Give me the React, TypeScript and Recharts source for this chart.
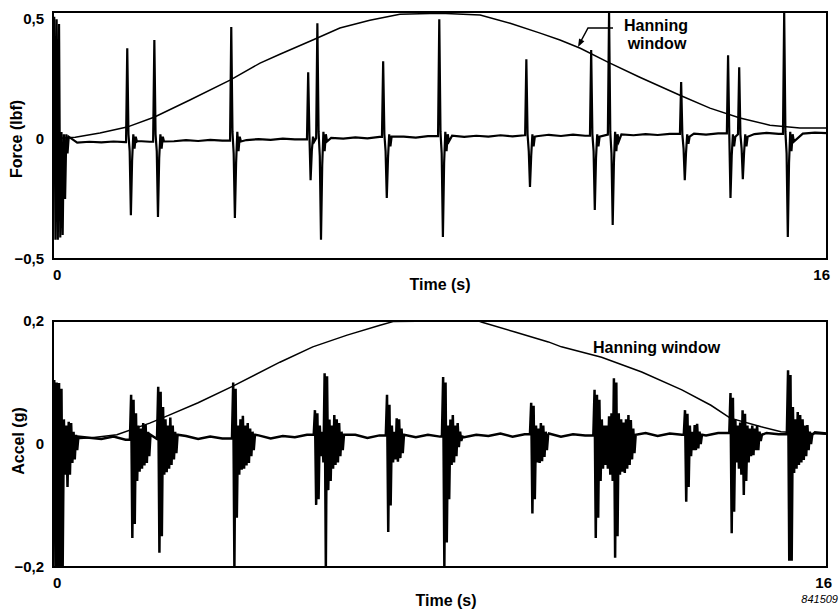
import React from 'react';
import { LineChart, Line, XAxis, YAxis, ReferenceArea } from 'recharts';

const FONT = '"Liberation Sans", Arial, Helvetica, sans-serif';
const INK = '#000';

// sampling of the recorded signals
const BASE_STEP = 0.25; // s between baseline samples
const RING_STEP = 0.025; // s between samples inside one hit

const timeTicks = [0, 16];
const forceTicks = [-0.5, 0, 0.5];
const accelTicks = [-0.2, 0, 0.2];

// ---- force (lbf) ----
const forceBase = [
  -0.016, -0.012, -0.015, -0.011, -0.014, -0.010, -0.013, -0.008,
  -0.011, -0.007, -0.009, -0.004, -0.008, -0.003, -0.006, -0.001,
  -0.004, 0.0, -0.003, 0.002, -0.001, 0.004, 0.0, 0.005,
  0.002, 0.007, 0.003, 0.009, 0.005, 0.010, 0.006, 0.012,
  0.008, 0.014, 0.009, 0.014, 0.010, 0.016, 0.011, 0.016,
  0.012, 0.018, 0.013, 0.019, 0.014, 0.019, 0.015, 0.020,
  0.016, 0.021, 0.017, 0.022, 0.018, 0.023, 0.019, 0.024,
  0.020, 0.025, 0.021, 0.026, 0.022, 0.027, 0.023, 0.027,
  0.025,
];

const forceHitTimes = [0, 1.51, 2.07, 3.66, 5.25, 5.44, 6.8, 7.96, 9.76, 11.1, 11.47, 12.96, 13.93, 14.16, 15.09];

const forceHitWaves = [
  [0.51, -0.42, 0.5, -0.42, 0.48, -0.41, 0.03, -0.4, 0.02, -0.25, 0.02, -0.06, 0.01],
  [0.379, 0.02, -0.05, -0.317, -0.09, 0.02, -0.04, 0.01, -0.01],
  [0.413, 0.02, -0.05, -0.325, -0.08, 0.02, -0.04, 0.01, -0.01],
  [0.467, 0.03, -0.06, -0.329, -0.1, 0.03, -0.05, 0.01, -0.01],
  [0.279, 0.02, -0.171, -0.05, 0.01, -0.01],
  [0.483, 0.03, -0.07, -0.42, -0.11, 0.03, -0.05, 0.02, -0.01],
  [0.325, 0.02, -0.05, -0.246, -0.08, 0.02, -0.03, 0.01],
  [0.5, 0.03, -0.06, -0.408, -0.1, 0.03, -0.05, 0.02, -0.01],
  [0.333, 0.02, -0.05, -0.2, -0.07, 0.02, -0.03, 0.01],
  [0.371, 0.02, -0.05, -0.296, -0.08, 0.02, -0.03, 0.01],
  [0.53, 0.03, -0.06, -0.358, -0.1, 0.03, -0.05, 0.02, -0.01],
  [0.238, 0.02, -0.04, -0.171, -0.06, 0.02, -0.02, 0.01],
  [0.35, 0.02, -0.246, -0.07, 0.02, -0.03, 0.01],
  [0.3, 0.02, -0.04, -0.167, -0.06, 0.02, -0.03, 0.01],
  [0.53, 0.03, -0.06, -0.408, -0.1, 0.03, -0.05, 0.02, -0.01],
];

const forceWindowTimes = [0, 0.14, 0.46, 0.97, 1.53, 2.1, 2.83, 3.66, 4.28, 4.69, 5.37, 5.93, 6.55, 7.17, 8.0, 8.83, 9.45, 10.07, 10.48, 10.9, 11.47, 12.13, 12.96, 13.58, 14.2, 14.82, 15.44, 16];
const forceWindowValues = [0.004, 0.004, 0.008, 0.025, 0.05, 0.092, 0.163, 0.246, 0.317, 0.354, 0.413, 0.463, 0.496, 0.521, 0.525, 0.517, 0.483, 0.442, 0.413, 0.379, 0.321, 0.258, 0.183, 0.129, 0.088, 0.058, 0.046, 0.046];

// ---- acceleration (g) ----
const accelBase = [
  0.007, 0.011, 0.006, 0.010, 0.008, 0.012, 0.007, 0.011,
  0.008, 0.012, 0.009, 0.013, 0.008, 0.012, 0.009, 0.013,
  0.010, 0.014, 0.009, 0.013, 0.011, 0.015, 0.010, 0.014,
  0.011, 0.015, 0.010, 0.014, 0.012, 0.016, 0.011, 0.015,
  0.012, 0.016, 0.011, 0.015, 0.013, 0.017, 0.012, 0.016,
  0.013, 0.017, 0.012, 0.016, 0.014, 0.018, 0.013, 0.017,
  0.014, 0.018, 0.013, 0.017, 0.015, 0.019, 0.014, 0.018,
  0.015, 0.019, 0.014, 0.018, 0.016, 0.020, 0.015, 0.019,
  0.017,
];

const accelHitTimes = [0, 1.59, 2.15, 3.7, 5.39, 6.88, 8.04, 9.86, 11.17, 13.04, 13.98, 15.17];

const accelHitWaves = [
  [0.104, -0.2, 0.1, -0.2, 0.099, -0.2, 0.09, -0.2, 0.04, -0.05, 0.03, -0.07, 0.036, -0.05, 0.034, -0.031, 0.02, -0.025, 0.015, -0.01, 0.012],
  [0.08, -0.153, 0.072, -0.13, 0.05, -0.06, 0.03, -0.045, 0.025, -0.04, 0.034, -0.035, 0.031, -0.031, 0.02, -0.02, 0.015],
  [0.093, -0.177, 0.085, -0.15, 0.06, -0.05, 0.04, -0.046, 0.03, -0.04, 0.043, -0.034, 0.03, -0.025, 0.02, -0.015, 0.015],
  [0.1, -0.2, 0.09, -0.12, 0.03, -0.05, 0.04, -0.042, 0.046, -0.04, 0.03, -0.035, 0.034, -0.031, 0.025, -0.02, 0.02, -0.01, 0.015],
  [0.055, -0.099, 0.05, -0.09, 0.03, -0.02, 0.02, -0.03, 0.115, -0.2, 0.11, -0.075, 0.04, -0.06, 0.03, -0.04, 0.047, -0.034, 0.04, -0.03, 0.034, -0.02, 0.02, -0.01, 0.015],
  [0.08, -0.143, 0.064, -0.1, 0.03, -0.03, 0.02, -0.025, 0.042, -0.029, 0.04, -0.023, 0.025, -0.015, 0.015],
  [0.109, -0.2, 0.1, -0.16, 0.03, -0.09, 0.04, -0.034, 0.047, -0.03, 0.03, -0.02, 0.034, -0.005, 0.02, 0.005, 0.012],
  [0.067, -0.113, 0.062, -0.09, 0.03, -0.03, 0.025, -0.031, 0.034, -0.028, 0.03, -0.021, 0.02, -0.01, 0.015],
  [0.088, -0.153, 0.08, -0.12, 0.072, -0.06, 0.04, -0.04, 0.03, -0.034, 0.03, -0.04, 0.045, -0.05, 0.05, -0.06, 0.107, -0.185, 0.1, -0.15, 0.05, -0.05, 0.04, -0.045, 0.035, -0.047, 0.04, -0.04, 0.047, -0.034, 0.039, -0.025, 0.025, -0.015, 0.015],
  [0.055, -0.094, 0.049, -0.07, 0.03, -0.02, 0.02, -0.01, 0.031, -0.01, 0.033, -0.007, 0.02, 0.0, 0.015],
  [0.083, -0.145, 0.075, -0.11, 0.04, -0.03, 0.03, -0.04, 0.035, -0.05, 0.055, -0.083, 0.049, -0.06, 0.03, -0.03, 0.025, -0.02, 0.03, -0.018, 0.025, -0.01, 0.031, -0.01, 0.02, 0.005, 0.015],
  [0.12, -0.19, 0.112, -0.19, 0.06, -0.047, 0.04, -0.04, 0.052, -0.034, 0.047, -0.03, 0.04, -0.026, 0.03, -0.02, 0.031, -0.01, 0.02, 0.0, 0.015],
];

const accelWindowTimes = [0, 0.14, 0.8, 1.32, 2.0, 2.4, 3.0, 3.72, 4.69, 5.37, 6.08, 6.76, 7.03, 8.0, 8.8, 8.87, 9.55, 10.24, 10.51, 11.34, 12.17, 13.0, 13.6, 14.0, 14.64, 15.05, 15.46, 16];
const accelWindowValues = [0.006, 0.007, 0.01, 0.015, 0.034, 0.047, 0.067, 0.094, 0.133, 0.158, 0.177, 0.193, 0.199, 0.2, 0.2, 0.198, 0.182, 0.166, 0.158, 0.141, 0.117, 0.088, 0.063, 0.042, 0.028, 0.02, 0.018, 0.016];

type Pt = { t: number; v: number };

// baseline samples with the recorded hits spliced in
function buildSignal(base: number[], hitTimes: number[], hitWaves: number[][]): Pt[] {
  const pts: Pt[] = [];
  let h = 0;
  base.forEach((b, i) => {
    const t = i * BASE_STEP;
    while (h < hitTimes.length && hitTimes[h] <= t) {
      const t0 = hitTimes[h];
      const before = base[Math.max(0, i - 1)];
      if (!pts.length || pts[pts.length - 1].t < t0) pts.push({ t: t0, v: before });
      hitWaves[h].forEach((v, k) => pts.push({ t: +(t0 + (k + 1) * RING_STEP).toFixed(4), v }));
      h++;
    }
    const last = pts.length ? pts[pts.length - 1].t : -1;
    if (t > last) pts.push({ t, v: b });
  });
  return pts;
}

const zip = (ts: number[], vs: number[]): Pt[] => ts.map((t, i) => ({ t, v: vs[i] }));

const forceSignal = buildSignal(forceBase, forceHitTimes, forceHitWaves);
const forceWindow = zip(forceWindowTimes, forceWindowValues);
const accelSignal = buildSignal(accelBase, accelHitTimes, accelHitWaves);
const accelWindow = zip(accelWindowTimes, accelWindowValues);

const fmt = (v: number) => (v === 0 ? '0' : (v < 0 ? '\u2212' : '') + String(Math.abs(v)).replace('.', ','));

const textStyle = { fontFamily: FONT, fontWeight: 700, fill: INK };

const ValueTick = (props: any) => {
  const { x, y, payload } = props;
  return (
    <text x={x - 9} y={y + 5} textAnchor="end" fontSize={15} style={textStyle}>
      {fmt(payload.value)}
    </text>
  );
};

const makeTimeTick = (lastEnd: number) => (props: any) => {
  const { x, y, payload } = props;
  const end = payload.value === 16;
  return (
    <text x={end ? x + lastEnd : x} y={y + 21} textAnchor={end ? 'end' : 'start'} fontSize={15} style={textStyle}>
      {payload.value}
    </text>
  );
};

const ForcePanel = () => (
  <LineChart width={840} height={300} margin={{ top: 12, right: 13, bottom: 0, left: 0 }}>
    <XAxis type="number" dataKey="t" domain={[0, 16]} ticks={timeTicks} interval={0} allowDataOverflow
      axisLine={false} tickLine={false} tickSize={0} tickMargin={0} height={41} tick={makeTimeTick(3)} />
    <YAxis type="number" domain={[-0.5, 0.53]} ticks={forceTicks} interval={0} allowDataOverflow
      axisLine={false} tickLine={false} tickSize={0} tickMargin={0} width={53} tick={<ValueTick />} />
    <ReferenceArea x1={0} x2={16} y1={-0.5} y2={0.53} fill="none" fillOpacity={0} stroke={INK} strokeWidth={2} />
    <Line data={forceWindow} dataKey="v" type="linear" stroke={INK} strokeWidth={1.5} dot={false} isAnimationActive={false} />
    <Line data={forceSignal} dataKey="v" type="linear" stroke={INK} strokeWidth={2.2} dot={false} isAnimationActive={false} />
    <text x={16} y={139} transform="rotate(-90 16 139)" textAnchor="middle" dominantBaseline="central" fontSize={16} style={textStyle}>
      Force (lbf)
    </text>
    <text x={440} y={290} textAnchor="middle" fontSize={16} style={textStyle}>Time (s)</text>
    <text x={656} y={31} textAnchor="middle" fontSize={16} style={textStyle}>Hanning</text>
    <text x={657} y={49} textAnchor="middle" fontSize={16} style={textStyle}>window</text>
    <polyline points="613,28 588,28 581,41" fill="none" stroke={INK} strokeWidth={1.5} />
    <polygon points="578,47 584.4,41.3 579.1,38.5" fill={INK} />
  </LineChart>
);

const AccelPanel = () => (
  <LineChart width={840} height={310} margin={{ top: 21, right: 13, bottom: 0, left: 0 }}>
    <XAxis type="number" dataKey="t" domain={[0, 16]} ticks={timeTicks} interval={0} allowDataOverflow
      axisLine={false} tickLine={false} tickSize={0} tickMargin={0} height={43} tick={makeTimeTick(5)} />
    <YAxis type="number" domain={[-0.2, 0.2]} ticks={accelTicks} interval={0} allowDataOverflow
      axisLine={false} tickLine={false} tickSize={0} tickMargin={0} width={53} tick={<ValueTick />} />
    <ReferenceArea x1={0} x2={16} y1={-0.2} y2={0.2} fill="none" fillOpacity={0} stroke={INK} strokeWidth={2} />
    <Line data={accelWindow} dataKey="v" type="linear" stroke={INK} strokeWidth={1.5} dot={false} isAnimationActive={false} />
    <Line data={accelSignal} dataKey="v" type="linear" stroke={INK} strokeWidth={2.5} dot={false} isAnimationActive={false} />
    <text x={18} y={141} transform="rotate(-90 18 141)" textAnchor="middle" dominantBaseline="central" fontSize={16} style={textStyle}>
      Accel (g)
    </text>
    <text x={446} y={306} textAnchor="middle" fontSize={16} style={textStyle}>Time (s)</text>
    <text x={593} y={53} textAnchor="start" fontSize={16} style={textStyle}>Hanning window</text>
    <text x={838} y={303} textAnchor="end" fontSize={11} fontStyle="italic" style={{ fontFamily: FONT, fill: INK }}>841509</text>
  </LineChart>
);

export default function App() {
  return (
    <div style={{ position: 'absolute', left: 0, top: 0, width: 840, height: 610, background: '#fff' }}>
      <div style={{ position: 'absolute', left: 0, top: 0 }}>
        <ForcePanel />
      </div>
      <div style={{ position: 'absolute', left: 0, top: 300 }}>
        <AccelPanel />
      </div>
    </div>
  );
}
